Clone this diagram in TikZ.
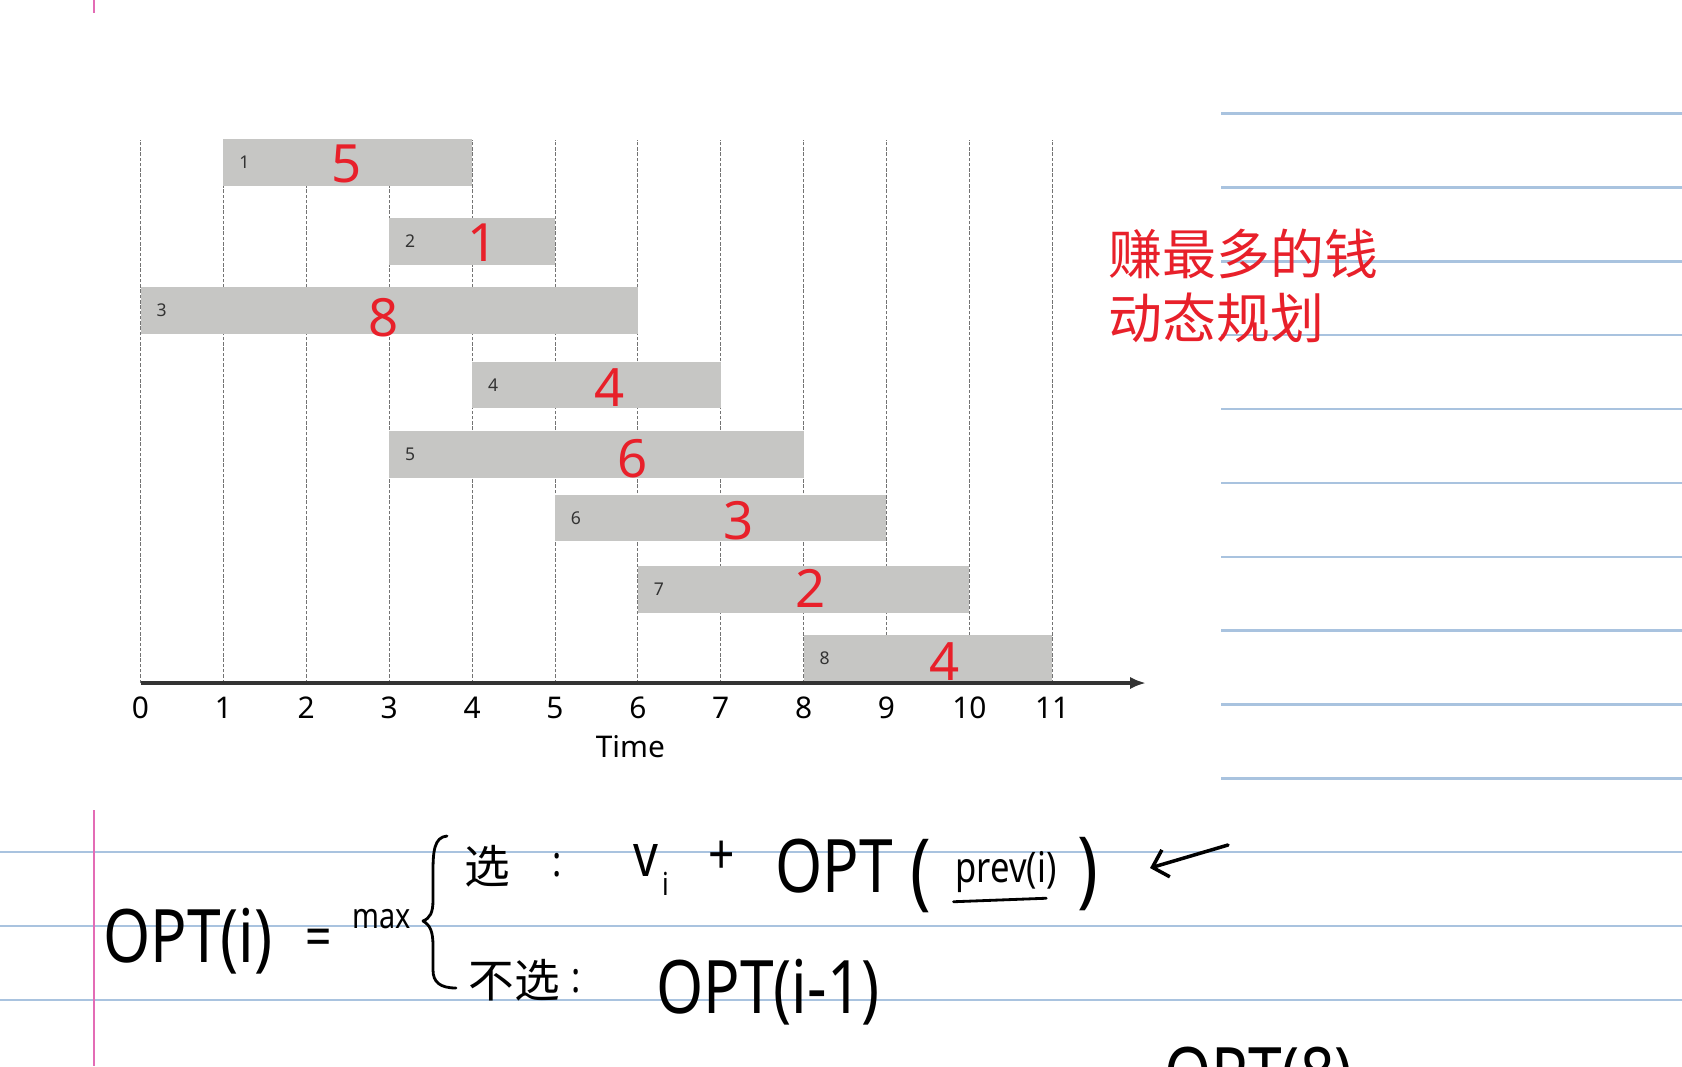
\documentclass[tikz,border=0pt]{standalone}
\usepackage{fontspec}
\setmainfont{Noto Sans}
\newfontfamily\cjk{Noto Sans CJK SC}
\newfontfamily\hand[FakeStretch=0.82]{Noto Sans}
\usetikzlibrary{positioning,arrows.meta,calc}
\definecolor{InkRed}{HTML}{E8202A}
\definecolor{RuleBlue}{HTML}{A9C3DF}
\definecolor{MarginPink}{HTML}{E36CB5}
\definecolor{BarGray}{HTML}{C6C6C4}

\begin{document}
\begin{tikzpicture}[
  x=0.02cm,y=-0.02cm,
  rule/.style={draw=RuleBlue,line width=1.4pt},
  margin/.style={draw=MarginPink,line width=1.1pt},
  gridln/.style={draw=black!55,line width=0.4pt,dash pattern=on 2pt off 1pt},
  axisln/.style={draw=black!80,line width=1.8pt,-{Latex[length=9pt,width=7pt]}},
  bar/.style={fill=BarGray,inner sep=0pt,minimum height=0.93cm},
  jobno/.style={font=\fontsize{10}{12}\selectfont,text=black!80,inner sep=0pt},
  val/.style={font=\fontsize{30}{32}\selectfont,text=InkRed,inner sep=0pt},
  tick/.style={font=\fontsize{17}{20}\selectfont,inner sep=0pt},
  note/.style={font=\cjk\fontsize{30.7}{36.8}\selectfont,text=InkRed,align=left,inner sep=0pt},
  hand/.style={font=\hand\fontsize{42}{44}\selectfont,inner sep=0pt},
  handsm/.style={font=\hand\fontsize{24}{26}\selectfont,inner sep=0pt},
  handcn/.style={font=\cjk\fontsize{26}{28}\selectfont,inner sep=0pt},
  paren/.style={font=\hand\fontsize{48}{50}\selectfont,inner sep=0pt},
  pen/.style={draw=black,line width=1.6pt,line cap=round,line join=round},
]
\useasboundingbox (0,0) rectangle (1682,1066);
\clip (0,0) rectangle (1682,1066);
\fill[white] (0,0) rectangle (1682,1066);

% notebook rules
\foreach \k in {0,...,9}
  \draw[rule] (1221,{113.7+73.85*\k}) -- (1682,{113.7+73.85*\k});
\foreach \k in {10,11,12}
  \draw[rule] (0,{113.7+73.85*\k}) -- (1682,{113.7+73.85*\k});
\draw[margin] (94.4,0) -- (94.4,13);
\draw[margin] (94.4,810) -- (94.4,1066);

% schedule chart
\begin{scope}[shift={(140.5,683)},x=1.658cm,y=0.02cm]
\foreach \t in {0,...,11}{
  \draw[gridln] (\t,0) -- (\t,543.5);
  \node[tick] (t\t) at (\t,-25) {\t};
}
\foreach \s/\e/\c/\v/\vx/\vy [count=\i] in {1/4/520.5/5/2.485/519,
    3/5/441.6/1/4.128/440.6, 0/6/372.5/8/2.937/365.5, 4/7/297.9/4/5.663/295,
    3/8/228.7/6/5.941/224, 5/9/164.9/3/7.22/162, 6/10/93.6/2/8.088/95,
    8/11/24.5/4/9.705/21}{
  \node[bar,minimum width={(\e-\s)*1.658cm}] (job\i) at ({(\s+\e)/2},\c) {};
  \node[jobno,anchor=west] (no\i) at ([xshift=0.32cm]job\i.west) {\i};
  \node[val] (v\i) at (\vx,\vy) {\v};
}
\coordinate (origin) at (0,0);
\coordinate (tend) at (12.13,0);
\draw[axisln] (origin) -- (tend);
\node[tick] (time) at (5.91,-64) {Time};
\end{scope}

\node[note,anchor=west] (title) at (1108,286) {赚最多的钱\\动态规划};

% recurrence
\node[hand] (opti) at (188,941) {OPT(i)};
\node[font=\hand\fontsize{32}{34}\selectfont,inner sep=0pt] (eq) at (318.6,943) {=};
\node[font=\hand\fontsize{20}{22}\selectfont,inner sep=0pt] (mx) at (382,919) {max};
\draw[pen] (447,836) .. controls (434,837) and (433,852) .. (433,872) -- (433,900)
  .. controls (433,913) and (430,918) .. (423,921)
  .. controls (430,925) and (433,931) .. (433,946) -- (433,970)
  .. controls (433,982) and (440,988) .. (456,988);
\node[handcn] (pick) at (487,866) {选};
\node[handsm] (c1) at (557,865) {:};
\node[font=\hand\fontsize{34}{36}\selectfont,inner sep=0pt] (vv) at (646,860) {v};
\node[font=\hand\fontsize{18}{20}\selectfont,inner sep=0pt] (vi) at (666,884) {i};
\node[font=\hand\fontsize{32}{34}\selectfont,inner sep=0pt] (plus) at (722,858) {+};
\node[hand] (opt) at (834,866) {OPT};
\node[paren] (lp) at (921,876) {(};
\node[handsm] (prv) at (1006,872) {prev(i)};
\draw[pen] ([xshift=-1pt,yshift=-5pt]prv.south west) -- ([xshift=-6pt,yshift=-3pt]prv.south east);
\node[paren] (rp) at (1088,874) {)};
\coordinate (arrS) at (1228,845);
\coordinate (arrE) at (1150,868);
\draw[pen,line width=2pt,-{Straight Barb[length=8pt,width=16pt]}] (arrS) -- (arrE);
\node[handcn] (skip) at (514,980) {不选};
\node[handsm] (c2) at (576,981) {:};
\node[hand] (optm) at (768,992) {OPT(i-1)};
\node[hand,anchor=base west] (opt8) at (1164,1100) {OPT(8)};
\end{tikzpicture}
\end{document}
